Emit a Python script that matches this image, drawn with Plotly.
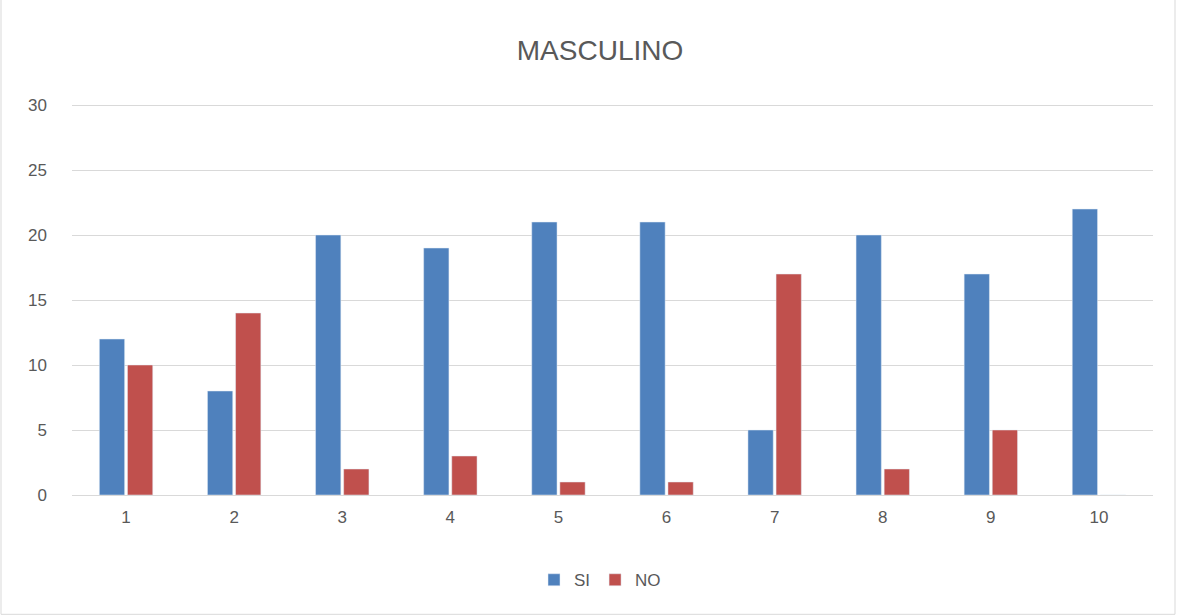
import plotly.graph_objects as go

categories = ["1", "2", "3", "4", "5", "6", "7", "8", "9", "10"]
si_values = [12, 8, 20, 19, 21, 21, 5, 20, 17, 22]
no_values = [10, 14, 2, 3, 1, 1, 17, 2, 5, 0]
y_ticks = [0, 5, 10, 15, 20, 25, 30]

W, H = 1177, 616
ml, mr, mt, mb = 72, 24, 105, 121
pw, ph = W - ml - mr, H - mt - mb

fig = go.Figure()
fig.add_trace(go.Bar(name="SI", x=categories, y=si_values, marker_color="#4F81BD"))
fig.add_trace(go.Bar(name="NO", x=categories, y=no_values, marker_color="#C0504D"))

font_family = "Liberation Sans, Arial, sans-serif"
fig.update_layout(
    width=W, height=H,
    margin=dict(l=ml, r=mr, t=mt - 1, b=mb),
    paper_bgcolor="white", plot_bgcolor="white",
    barmode="group", bargap=0.48, bargroupgap=0.1,
    title=dict(text="MASCULINO", x=600 / W, xanchor="center", y=1 - 50 / H, yanchor="middle",
               font=dict(family=font_family, size=28, color="#595959")),
    font=dict(family=font_family, size=17, color="#595959"),
    xaxis=dict(type="category", showgrid=False, showline=False, ticks="", ticklabelstandoff=10,
               tickfont=dict(size=17, color="#595959")),
    yaxis=dict(range=[0, 30.08], tickvals=y_ticks, showgrid=True, gridcolor="#D9D9D9", gridwidth=1,
               zeroline=True, zerolinecolor="#D9D9D9", zerolinewidth=1, showline=False, ticks="",
               ticklabelstandoff=24, tickfont=dict(size=17, color="#595959")),
    legend=dict(orientation="h", x=(600 - ml) / pw, xanchor="center", y=(495 - 580) / ph, yanchor="middle",
                font=dict(size=17, color="#595959"), itemwidth=30, traceorder="normal"),
    showlegend=True,
)

fig.add_shape(type="rect", xref="paper", yref="paper",
              x0=(1 - ml) / pw, x1=(W - 2 - ml) / pw,
              y0=-(H - 2 - mt - ph) / ph, y1=(H - mt - 1) / ph,
              line=dict(color="#D9D9D9", width=1), fillcolor="rgba(0,0,0,0)", layer="below")

fig.write_html("out.html", config={"displayModeBar": False},
               post_script="document.body.style.margin='0';document.body.style.overflow='hidden';")
